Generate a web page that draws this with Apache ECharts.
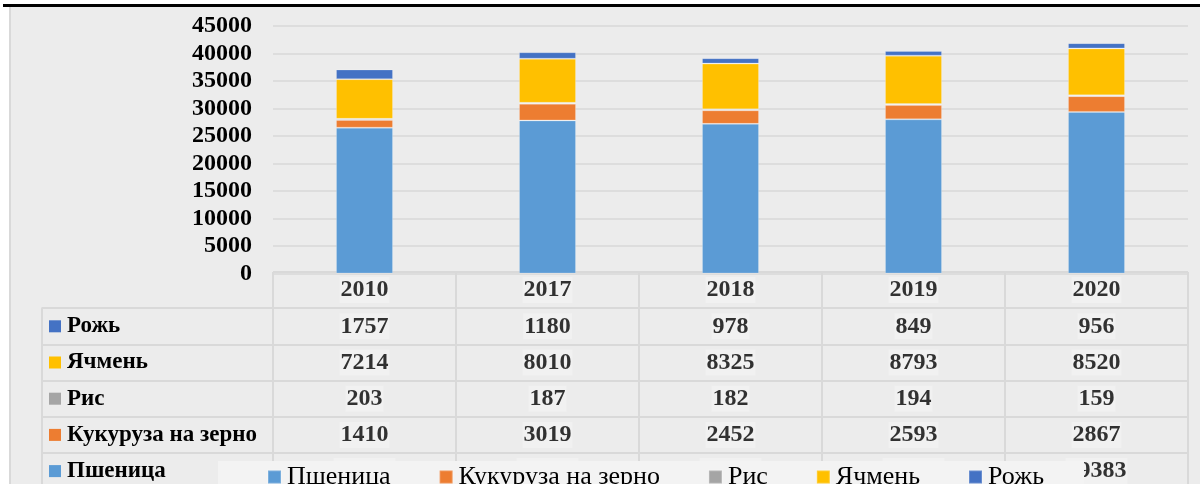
<!DOCTYPE html>
<html>
<head>
<meta charset="utf-8">
<script src="https://cdn.jsdelivr.net/npm/echarts@6/dist/echarts.min.js"></script>
<style>
  html, body { margin: 0; padding: 0; background: #ffffff; }
  #wrap { position: relative; width: 1200px; height: 484px; overflow: hidden; }
  #topline { position: absolute; left: 3px; top: 4px; width: 1197px; height: 3px; background: #000; }
  #box { position: absolute; left: 9px; top: 7px; width: 1191px; height: 477px; background: #ececec; border-left: 2px solid #d9d9d9; box-sizing: border-box; }
  #chart { position: absolute; left: 0; top: 0; width: 1200px; height: 484px; }
</style>
</head>
<body>
<div id="wrap">
  <div id="topline"></div>
  <div id="box"></div>
  <div id="chart"></div>
</div>
<script>
// ---- data ----
const years = ['2010', '2017', '2018', '2019', '2020'];
const wheat  = [26510, 27830, 27210, 28030, 29383]; // Пшеница
const corn   = [1410, 3019, 2452, 2593, 2867];      // Кукуруза на зерно
const rice   = [203, 187, 182, 194, 159];           // Рис
const barley = [7214, 8010, 8325, 8793, 8520];      // Ячмень
const rye    = [1757, 1180, 978, 849, 956];         // Рожь
const yMin = 0, yMax = 45000, yStep = 5000;

const seriesNames = ['Пшеница', 'Кукуруза на зерно', 'Рис', 'Ячмень', 'Рожь'];
const seriesData = [wheat, corn, rice, barley, rye];
const colors = ['#5B9BD5', '#ED7D31', '#A5A5A5', '#FFC000', '#4472C4'];

// table rows, top to bottom
const tableRows = ['Рожь', 'Ячмень', 'Рис', 'Кукуруза на зерно', 'Пшеница'];

const FONT = 'Liberation Serif, Times New Roman, serif';
const LINE = '#d9d9d9';

const chart = echarts.init(document.getElementById('chart'), null, { renderer: 'canvas' });

const barSeries = seriesNames.map((n, i) => ({
  name: n, type: 'bar', stack: 'total', xAxisIndex: 0, yAxisIndex: 0,
  barWidth: 57,
  itemStyle: { color: colors[i], borderColor: 'rgba(255,255,255,0.2)', borderWidth: 1 },
  data: seriesData[i]
}));

// table cells
const cellData = [];
years.forEach((y, c) => cellData.push([c, 0, y]));
tableRows.forEach((r, ri) => {
  const idx = seriesNames.indexOf(r);
  seriesData[idx].forEach((v, c) => cellData.push([c, ri + 1, String(v)]));
});

const rich = { t: { fontFamily: FONT, fontWeight: 'bold', fontSize: 23, color: '#000', padding: [0, 0, 0, 6] } };
tableRows.forEach((r, i) => {
  rich['m' + i] = { backgroundColor: colors[seriesNames.indexOf(r)], width: 12, height: 12 };
});

const option = {
  animation: false,
  backgroundColor: 'transparent',
  grid: [
    { left: 273, right: 12, top: 26, bottom: 210.5, outerBoundsMode: 'none' },
    { left: 273, right: 12, top: 272, bottom: -5.2, outerBoundsMode: 'none' },
    { left: 42, right: 927, top: 308.2, bottom: -5.2, outerBoundsMode: 'none' }
  ],
  xAxis: [
    { type: 'category', gridIndex: 0, data: years, axisLine: { show: false }, axisTick: { show: false }, axisLabel: { show: false } },
    { type: 'category', gridIndex: 1, data: years, axisLine: { show: false }, axisTick: { show: false }, axisLabel: { show: false },
      splitLine: { show: true, lineStyle: { color: LINE, width: 2 } } },
    { type: 'category', gridIndex: 2, data: [''], axisLine: { show: false }, axisTick: { show: false }, axisLabel: { show: false },
      splitLine: { show: false } }
  ],
  yAxis: [
    { type: 'value', gridIndex: 0, min: yMin, max: yMax, interval: yStep,
      axisLine: { show: false }, axisTick: { show: false },
      axisLabel: { margin: 21, fontFamily: FONT, fontWeight: 'bold', fontSize: 24, color: '#000',
        formatter: v => String(v) },
      splitLine: { show: true, lineStyle: { color: LINE, width: 1.5 } } },
    { type: 'category', gridIndex: 1, inverse: true, data: ['', ...tableRows],
      axisLine: { show: false }, axisTick: { show: false }, axisLabel: { show: false },
      splitLine: { show: true, lineStyle: { color: LINE, width: 2 } } },
    { type: 'category', gridIndex: 2, inverse: true, data: tableRows,
      axisLine: { show: true, lineStyle: { color: LINE, width: 2 } }, axisTick: { show: false },
      axisLabel: { show: true, align: 'left', margin: -7,
        formatter: (v, i) => '{m' + i + '|}{t|' + v + '}', rich: rich },
      splitLine: { show: true, lineStyle: { color: LINE, width: 2 } } }
  ],
  legend: {
    data: seriesNames,
    left: 218, top: 461,
    padding: [3, 40, 6, 49],
    itemGap: 48, itemWidth: 13, itemHeight: 13,
    icon: 'rect',
    backgroundColor: '#f3f3f3',
    textStyle: { fontFamily: FONT, fontSize: 26, color: '#000', padding: [0, 0, 0, 1] }
  },
  series: [
    ...barSeries,
    {
      type: 'scatter', xAxisIndex: 1, yAxisIndex: 1,
      symbolSize: 1, itemStyle: { color: 'rgba(0,0,0,0)' },
      silent: true,
      data: cellData,
      label: {
        show: true, position: 'inside',
        formatter: p => p.data[2],
        fontFamily: FONT, fontWeight: 'bold', fontSize: 24, color: '#000',
        backgroundColor: '#f2f2f2', padding: [2, 1, 0, 1]
      }
    }
  ]
};
chart.setOption(option);
</script>
</body>
</html>
